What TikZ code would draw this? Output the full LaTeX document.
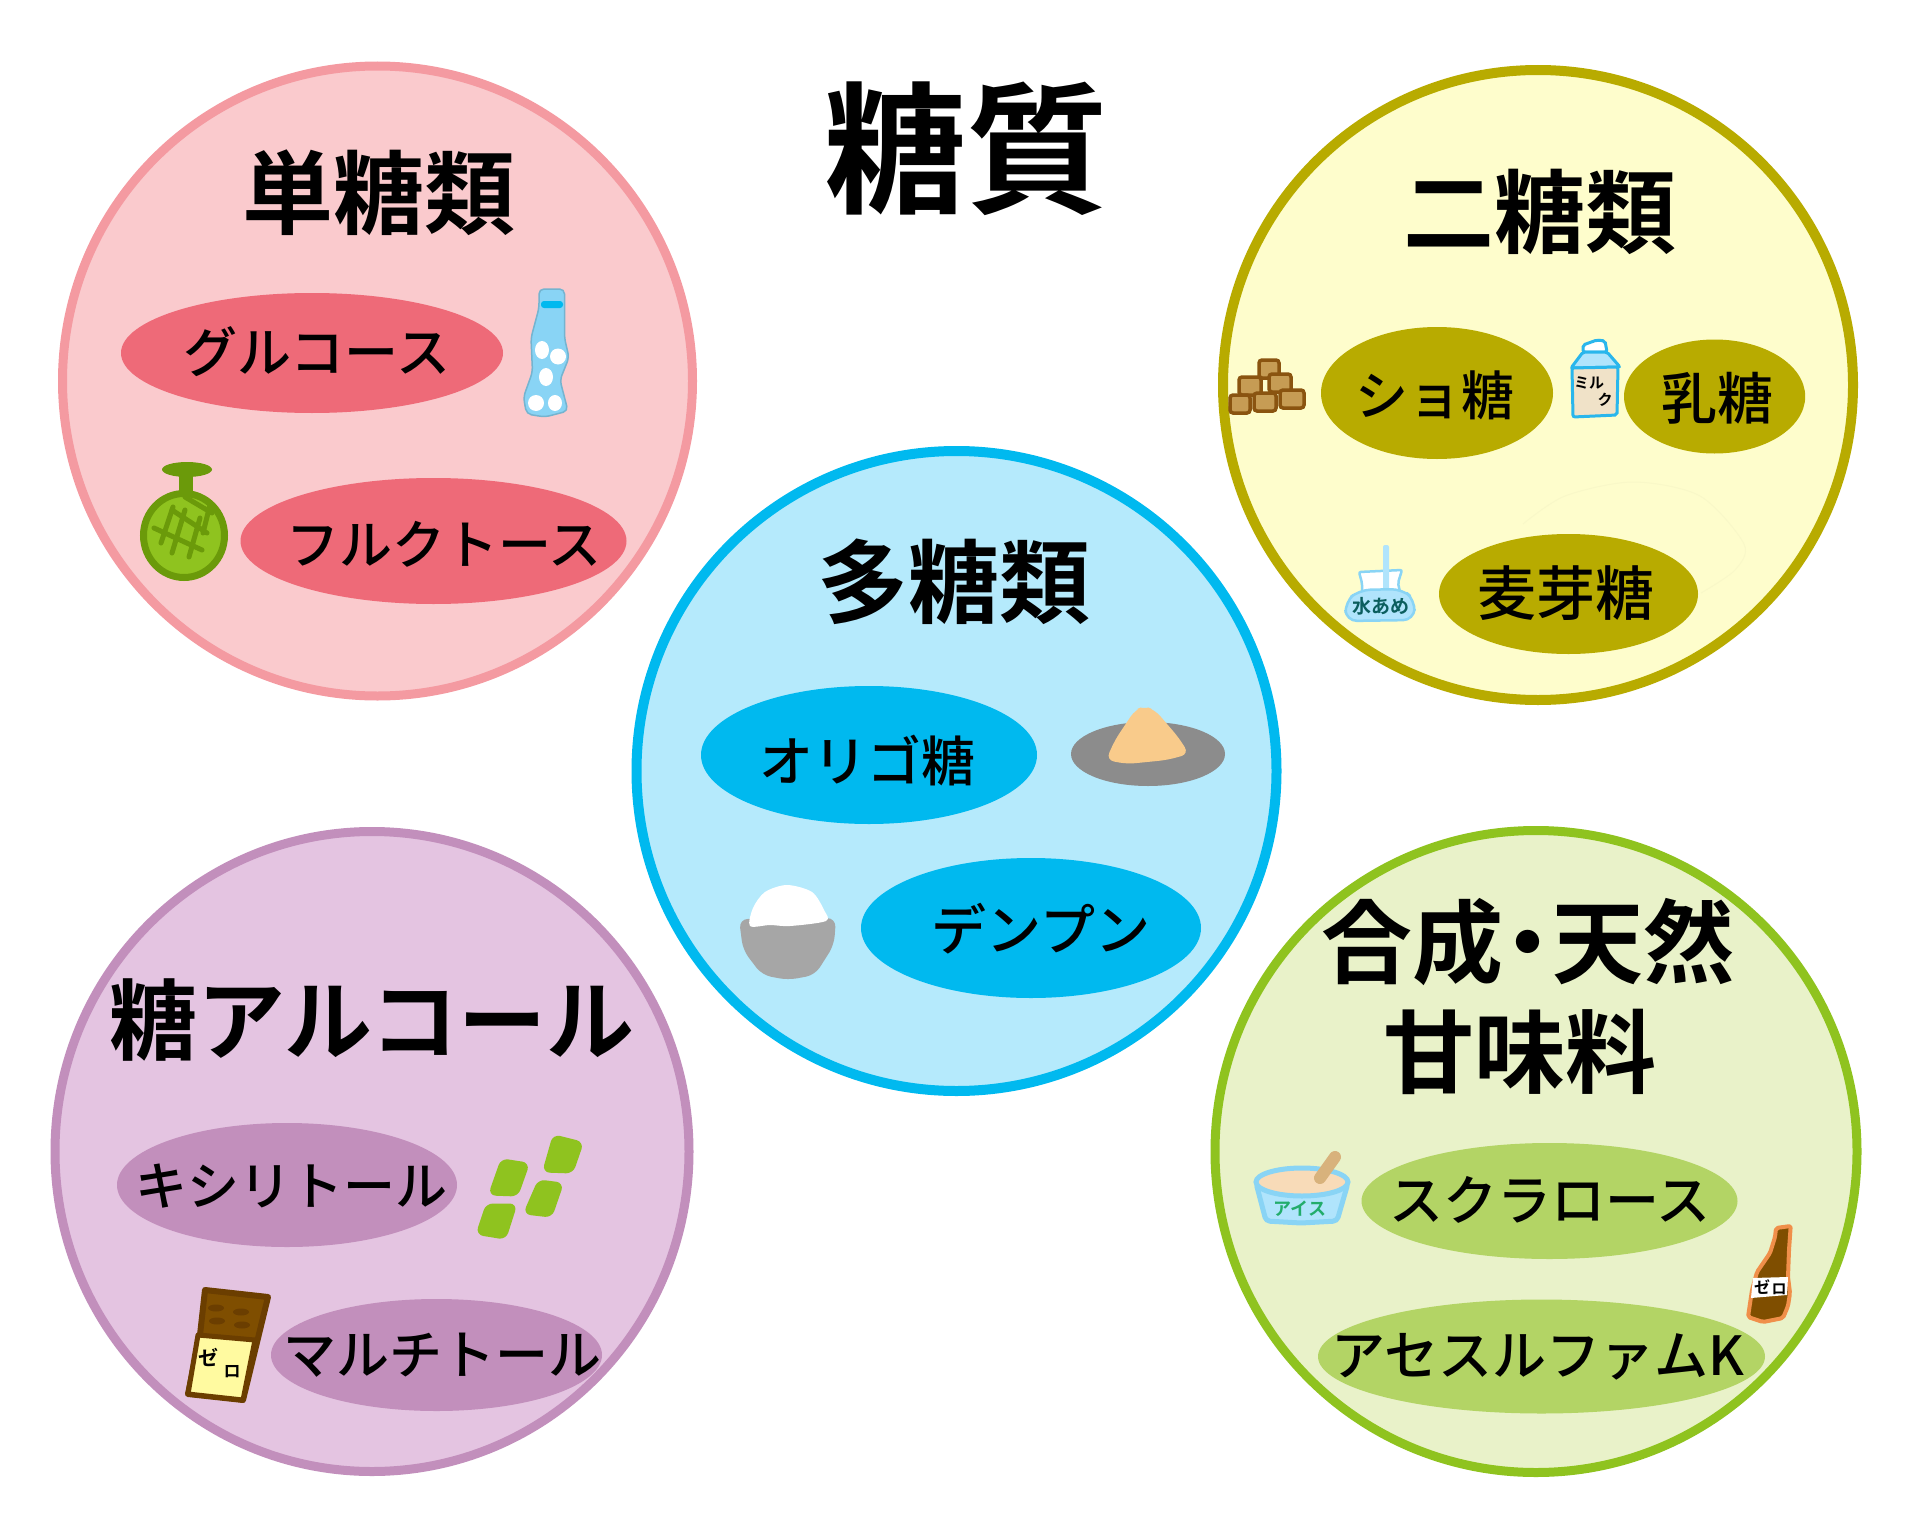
\documentclass[tikz,border=0pt]{standalone}
\usepackage{fontspec}
\newfontfamily\jpbold{Noto Sans CJK JP Bold}
\newfontfamily\jplabel{Noto Sans CJK JP Medium}
\definecolor{pinkfill}{HTML}{FACACD}
\definecolor{pinkline}{HTML}{F49AA1}
\definecolor{pinkoval}{HTML}{EE6A78}
\definecolor{olivefill}{HTML}{FEFDCC}
\definecolor{oliveline}{HTML}{B8AB00}
\definecolor{bluefill}{HTML}{B5EAFC}
\definecolor{blueline}{HTML}{00B9EF}
\definecolor{purplefill}{HTML}{E4C4E1}
\definecolor{purpleline}{HTML}{C28FBC}
\definecolor{greenfill}{HTML}{E9F2C9}
\definecolor{greenline}{HTML}{8FC31F}
\definecolor{greenoval}{HTML}{B3D465}
\definecolor{melondark}{HTML}{6B9A0A}
\definecolor{sugarfill}{HTML}{C69C54}
\definecolor{sugarline}{HTML}{8A5410}
\definecolor{icebluefill}{HTML}{B0E4FC}
\definecolor{icebluelight}{HTML}{89D4F5}
\definecolor{milkline}{HTML}{29B6EC}
\definecolor{milkcream}{HTML}{F0E2C8}
\definecolor{brownfill}{HTML}{7F4E00}
\definecolor{browndark}{HTML}{6B3E00}
\definecolor{powderfill}{HTML}{F9CB8B}
\definecolor{creamfill}{HTML}{F8DBB8}
\definecolor{spoonfill}{HTML}{D8B27C}
\definecolor{labelyellow}{HTML}{FFFAA0}
\definecolor{bottleline}{HTML}{F08F4A}
\definecolor{cupgreen}{HTML}{22AC6B}
\definecolor{syruptext}{HTML}{0B5E5E}
\begin{document}
\begin{tikzpicture}[x=1pt,y=-1pt,
    headtext/.style={inner sep=0pt,font=\jpbold\fontsize{91}{100}\selectfont},
    ovaltext/.style={inner sep=0pt,font=\jplabel\fontsize{#1}{#1}\selectfont},
    handtext/.style={inner sep=0pt,font=\jpbold\fontsize{#1}{#1}\selectfont},
    sugarcube/.style={fill=sugarfill,draw=sugarline,line width=3.5pt,rounded corners=3pt},
    gumpiece/.style={fill=greenline,draw=greenline,line width=3pt,rounded corners=6pt,line join=round}]
\useasboundingbox (0,0) rectangle (1920,1536);

%CIRCLES
\filldraw [fill=pinkfill, draw=pinkline, line width=9pt] (377.5,381) circle (315);
\filldraw [fill=olivefill, draw=oliveline, line width=10pt] (1538,385) circle (315);
\filldraw [fill=purplefill, draw=purpleline, line width=9pt] (372,1151.5) ellipse [x radius=317, y radius=320];
\filldraw [fill=greenfill, draw=greenline, line width=9pt] (1536,1151.5) circle (321);
\filldraw [fill=bluefill, draw=blueline, line width=10pt] (956.5,771) circle (320);

%Faint trace beside the maltose oval
\draw [olivefill!98!black, line width=1pt] plot [smooth] coordinates {(1523,524) (1565,496) (1633,482) (1700,496) (1744,544) (1735,570) (1701,593)};

%Ovals
\foreach \x/\y/\rx/\ry in {312/353/191/60,433.5/541/193/63}
  \fill [pinkoval] (\x,\y) ellipse [x radius=\rx, y radius=\ry];
\foreach \x/\y/\rx/\ry in {1437/393/116/66,1714.6/396.5/90.6/57,1568.5/594/129.5/60}
  \fill [oliveline] (\x,\y) ellipse [x radius=\rx, y radius=\ry];
\foreach \x/\y/\rx/\ry in {869/755/168/69,1031/928/170/70}
  \fill [blueline] (\x,\y) ellipse [x radius=\rx, y radius=\ry];
\foreach \x/\y/\rx/\ry in {287/1185/170/62,436.5/1355/165.5/56}
  \fill [purpleline] (\x,\y) ellipse [x radius=\rx, y radius=\ry];
\foreach \x/\y/\rx/\ry in {1549.5/1201/188/58,1541.5/1356.5/223.5/57}
  \fill [greenoval] (\x,\y) ellipse [x radius=\rx, y radius=\ry];

%Headings
\node [headtext, font=\jpbold\fontsize{142}{144}\selectfont] (title) at (966,149) {糖質};
\node [headtext] (monohead) at (379,193) {単糖類};
\node [headtext] (dihead) at (1540,212) {二糖類};
\node [headtext] (polyhead) at (954,582) {多糖類};
\node [headtext, font=\jpbold\fontsize{88}{100}\selectfont] (alcoholhead) at (372,1020) {糖アルコール};
\node [headtext] (sweethead) at (1528,942) {合成\hspace{-.23em}・\hspace{-.23em}天然};
\node [headtext] (sweethead2) at (1520,1052) {甘味料};

%Oval labels
\node [ovaltext=54] (glucose) at (317,352) {グルコース};
\node [ovaltext=53] (fructose) at (444,544) {フルクトース};
\node [ovaltext=53] (sucrose) at (1435,395) {ショ糖};
\node [ovaltext=56] (lactose) at (1717,398) {乳糖};
\node [ovaltext=59] (maltose) at (1566,593) {麦芽糖};
\node [ovaltext=54] (oligo) at (867,761) {オリゴ糖};
\node [ovaltext=55] (starch) at (1041,929) {デンプン};
\node [ovaltext=52] (xylitol) at (291,1186) {キシリトール};
\node [ovaltext=53] (maltitol) at (442,1355) {マルチトール};
\node [ovaltext=54] (sucralose) at (1550,1200) {スクラロース};
\node [ovaltext=54] (acesulfame) at (1538,1357) {アセスルファムK};

%Ramune bottle
\filldraw [fill=icebluelight, draw=icebluelight!85!black, line width=1.5pt, rounded corners=5pt]
  (539,289) -- (564.5,289) -- (564.5,338) -- (569,357.5) -- (560,380) -- (568,411) -- (545,417)
  -- (526.5,414) -- (523.5,397) -- (532.5,372) -- (531,338) -- (539,308) -- cycle;
\fill [blueline, rounded corners=3pt] (541,301) rectangle (563,308);
\foreach \x/\y/\rx/\ry in {542/350/7/9,558/356.5/8/8,546/377/7/9,536/403/8/8,555/403/7/8}
  \fill [white] (\x,\y) ellipse [x radius=\rx, y radius=\ry];

%Melon
\draw [melondark, line width=14pt] (185.5,470) -- (185.5,495);
\fill [melondark] (187,469.5) ellipse [x radius=25, y radius=7.5];
\filldraw [fill=greenline, draw=melondark, line width=7pt] (184,535.5) ellipse [x radius=40.5, y radius=42];
\foreach \xa/\ya/\xb/\yb in {173/507/161/543,185/510/172/553,200/518/189/557,210/505/203/533,154/528/202/550,172/510/207/533,185/497/212/513}
  \draw [melondark, line width=5pt, line cap=round] (\xa,\ya) -- (\xb,\yb);

%Sugar cubes
\foreach \x/\y/\w in {1269/369/10,1250/386/11,1280/383/11,1240/404/10,1265/402/11,1292/399/12}
  \draw [sugarcube] (\x,\y) +(-\w,-9) rectangle +(\w,9);

%Milk carton
\filldraw [fill=white, draw=milkline, line width=3pt, rounded corners=2pt]
  (1583,352) -- (1583,345) -- (1597,340) -- (1605,341) -- (1607,352) -- cycle;
\filldraw [fill=icebluefill, draw=milkline, line width=3pt, rounded corners=2pt]
  (1571,368) -- (1583,352) -- (1607,352) -- (1620,367) -- cycle;
\filldraw [fill=milkcream, draw=milkline, line width=3pt, rounded corners=2pt]
  (1572,368) -- (1618,367) -- (1617,415) -- (1573,417) -- cycle;
\node [handtext=15] (milkupper) at (1589,383) {ミル};
\node [handtext=15] (milklower) at (1605,400) {ク};

%Mizuame
\filldraw [fill=white, draw=icebluelight, line width=2.5pt, rounded corners=2pt]
  (1362,592) -- (1362,583) -- (1359,572) -- (1402,570) -- (1398,583) -- (1400,592) -- cycle;
\fill [icebluefill, rounded corners=2pt] (1383,545) rectangle (1389,592);
\filldraw [fill=icebluefill, draw=icebluelight, line width=2.5pt, rounded corners=11pt]
  (1359,590) -- (1402,589) -- (1415,600) -- (1414,620) -- (1346,621) -- (1345,602) -- cycle;
\node [handtext=19, text=syruptext] (mizuame) at (1381,606) {水あめ};

%Plate and powder
\fill [black!45] (1148,754) ellipse [x radius=77, y radius=32];
\fill [powderfill, rounded corners=8pt]
  (1106,760) -- (1115,740) -- (1135,710) -- (1144,706) -- (1155,710) -- (1179,738) -- (1189,754) -- (1167,760) -- (1127,764) -- cycle;

%Rice bowl
\fill [black!35, rounded corners=9pt] (739,919) -- (836,918) -- (834,945) -- (815,975) -- (788,980) -- (762,975) -- (743,950) -- cycle;
\fill [white] plot [smooth cycle] coordinates {(750,926) (753,908) (765,892) (787,885) (812,892) (824,910) (826,921) (790,926) (770,925)};

%Xylitol gum
\draw [gumpiece] (502,1160) -- (528,1164) -- (517,1195) -- (490,1194) -- cycle;
\draw [gumpiece] (554,1136) -- (582,1143) -- (572,1172) -- (544,1171) -- cycle;
\draw [gumpiece] (539,1181) -- (562,1184) -- (551,1216) -- (525,1213) -- cycle;
\draw [gumpiece] (487,1205) -- (515.5,1205) -- (505,1238) -- (477.5,1233.5) -- cycle;

%Chocolate
\filldraw [fill=brownfill, draw=browndark, line width=6pt, line join=round]
  (205,1290) -- (268,1297) -- (243,1400) -- (188,1394) -- (200,1335) -- cycle;
\filldraw [fill=labelyellow, draw=browndark, line width=5pt, line join=round]
  (198,1335) -- (255,1340) -- (243,1400) -- (188,1394) -- cycle;
\foreach \x/\y in {216/1308,241/1312,217/1321,242/1325}
  \fill [browndark] (\x,\y) ellipse [x radius=8, y radius=3.5];
\node [handtext=20] (chocoze) at (208,1357) {ゼ};
\node [handtext=17] (chocoro) at (232,1372) {ロ};

%Ice cup
\filldraw [fill=icebluefill, draw=icebluelight, line width=5pt, rounded corners=4pt]
  (1256,1183) -- (1348,1183) -- (1337,1221) -- (1301,1223) -- (1266,1221) -- cycle;
\filldraw [fill=creamfill, draw=icebluelight, line width=5pt] (1302,1182) ellipse [x radius=46, y radius=14];
\draw [spoonfill, line width=12pt, line cap=round] (1320,1178) -- (1335,1157);
\node [handtext=18, text=cupgreen] (cuplabel) at (1300,1209) {アイス};

%Zero bottle
\filldraw [fill=brownfill, draw=bottleline, line width=4pt, line join=round, rounded corners=2pt]
  (1776,1228) -- (1790.7,1226) -- (1789,1250) -- (1788,1277) -- (1790,1293) -- (1788,1306) -- (1783,1318) -- (1763,1322)
  -- (1748,1317) -- (1752,1290) -- (1757,1272) -- (1770,1253) -- (1775,1237) -- cycle;
\fill [white] (1753,1278) -- (1788,1277) -- (1787,1295) -- (1751,1298) -- cycle;
\node [handtext=16] (bottleze) at (1762,1287) {ゼ};
\node [handtext=15] (bottlero) at (1779,1289) {ロ};

\end{tikzpicture}
\end{document}
